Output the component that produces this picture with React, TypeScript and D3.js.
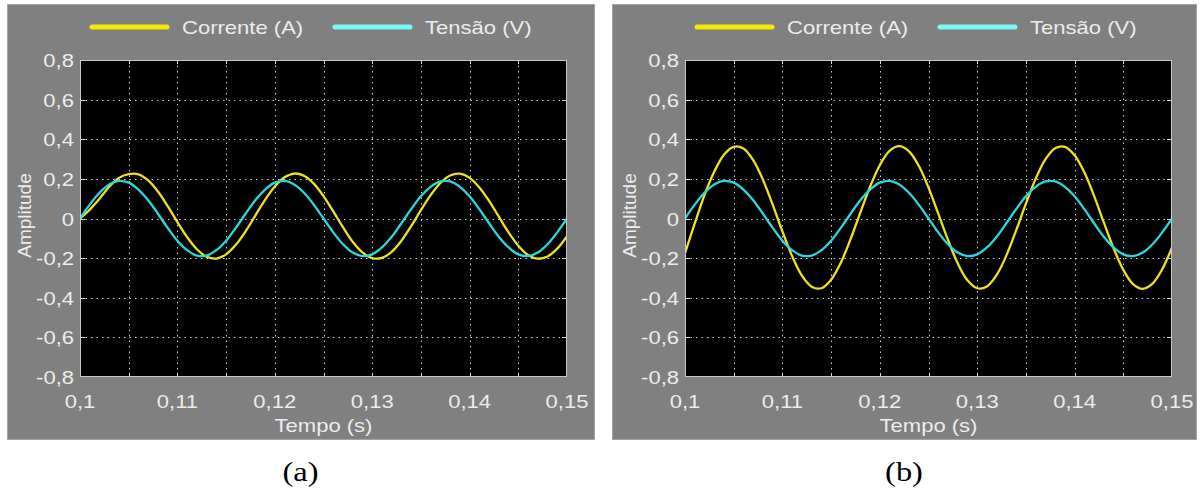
import { useEffect, useRef } from "react"
import * as d3 from "d3"

// time samples (s), 1 ms step
const tempo = [
  0.1, 0.101, 0.102, 0.103, 0.104, 0.105, 0.106, 0.107, 0.108, 0.109,
  0.11, 0.111, 0.112, 0.113, 0.114, 0.115, 0.116, 0.117, 0.118, 0.119,
  0.12, 0.121, 0.122, 0.123, 0.124, 0.125, 0.126, 0.127, 0.128, 0.129,
  0.13, 0.131, 0.132, 0.133, 0.134, 0.135, 0.136, 0.137, 0.138, 0.139,
  0.14, 0.141, 0.142, 0.143, 0.144, 0.145, 0.146, 0.147, 0.148, 0.149, 0.15,
]

// Tensão (V) — same trace in both panels
const tensao = [
  0, 0.07, 0.13, 0.172, 0.19, 0.181, 0.146, 0.092, 0.024, -0.047,
  -0.112, -0.16, -0.187, -0.187, -0.16, -0.112, -0.047, 0.024, 0.092, 0.146,
  0.181, 0.19, 0.172, 0.13, 0.07, 0, -0.07, -0.13, -0.172, -0.19,
  -0.181, -0.146, -0.092, -0.024, 0.047, 0.112, 0.16, 0.187, 0.187, 0.16,
  0.112, 0.047, -0.024, -0.092, -0.146, -0.181, -0.19, -0.172, -0.13, -0.07, 0,
]

// Corrente (A) — panel (a)
const correnteA = [
  0, 0.045, 0.1, 0.16, 0.205, 0.224, 0.223, 0.192, 0.136, 0.063,
  -0.018, -0.094, -0.155, -0.193, -0.202, -0.181, -0.133, -0.065, 0.015, 0.094,
  0.161, 0.208, 0.227, 0.216, 0.176, 0.113, 0.036, -0.044, -0.117, -0.171,
  -0.2, -0.199, -0.168, -0.112, -0.039, 0.042, 0.118, 0.179, 0.217, 0.226,
  0.205, 0.157, 0.089, 0.009, -0.07, -0.137, -0.184, -0.203, -0.192, -0.152, -0.089,
]

// Corrente (A) — panel (b)
const correnteB = [
  -0.175, -0.025, 0.118, 0.236, 0.322, 0.362, 0.353, 0.295, 0.196, 0.07,
  -0.065, -0.19, -0.288, -0.344, -0.352, -0.309, -0.223, -0.104, 0.03, 0.16,
  0.269, 0.341, 0.365, 0.339, 0.266, 0.156, 0.025, -0.108, -0.226, -0.312,
  -0.352, -0.343, -0.285, -0.186, -0.06, 0.075, 0.2, 0.298, 0.354, 0.362,
  0.319, 0.233, 0.114, -0.02, -0.15, -0.259, -0.331, -0.355, -0.329, -0.256, -0.146,
]

const xTicks = [0.1, 0.11, 0.12, 0.13, 0.14, 0.15]
const yTicks = [-0.8, -0.6, -0.4, -0.2, 0, 0.2, 0.4, 0.6, 0.8]
const seriesNames = ["Corrente (A)", "Tensão (V)"]
const panelLabels = ["(a)", "(b)"]

const W = 1200
const H = 492
const FONT = "'Liberation Sans', Arial, sans-serif"
const TXT = "#ececec"
const YELLOW = "#ede21c"
const CYAN = "#27d8dc"
const SX = 1.16 // source figure is stretched horizontally

const fmt = (d: number) => d3.format("~g")(d).replace(".", ",").replace("−", "-")

export default function App() {
  const svgRef = useRef<SVGSVGElement>(null)

  useEffect(() => {
    if (!svgRef.current) return
    const svg = d3.select(svgRef.current)
    svg.selectAll("*").remove()

    const panels = [
      { ox: 7, gw: 587, corrente: correnteA, label: panelLabels[0] },
      { ox: 612, gw: 584, corrente: correnteB, label: panelLabels[1] },
    ]

    const stretchedText = (
      g: d3.Selection<SVGGElement, unknown, null, undefined>,
      x: number,
      y: number,
      s: string,
      anchor: string,
      size = 19,
    ) =>
      g.append("text")
        .attr("transform", `translate(${x},${y}) scale(${SX},1)`)
        .attr("text-anchor", anchor)
        .style("font-family", FONT)
        .style("font-size", `${size}px`)
        .style("fill", TXT)
        .text(s)

    panels.forEach((p, pi) => {
      const g = svg.append("g")
      const left = p.ox + 73
      const right = left + 487
      const top = 60
      const bottom = 377

      const x = d3.scaleLinear().domain([0.1, 0.15]).range([left, right])
      const y = d3.scaleLinear().domain([-0.8, 0.8]).range([bottom, top])

      // gray panel
      g.append("rect")
        .attr("x", p.ox + 0.5)
        .attr("y", 4.5)
        .attr("width", p.gw)
        .attr("height", 435)
        .attr("fill", "#808080")
        .attr("stroke", "#a3a3a3")

      // plot area
      g.append("rect")
        .attr("x", left)
        .attr("y", top)
        .attr("width", right - left)
        .attr("height", bottom - top)
        .attr("fill", "#000")

      const clipId = `clip-${pi}`
      g.append("clipPath")
        .attr("id", clipId)
        .append("rect")
        .attr("x", left)
        .attr("y", top)
        .attr("width", right - left)
        .attr("height", bottom - top)

      // grid
      const xGrid = x.ticks(10).filter((t) => t > 0.1001 && t < 0.1499)
      const yGrid = yTicks.filter((t) => Math.abs(t) < 0.79)
      g.append("g")
        .selectAll("line")
        .data(xGrid)
        .join("line")
        .attr("x1", (d) => Math.round(x(d)) + 0.5)
        .attr("x2", (d) => Math.round(x(d)) + 0.5)
        .attr("y1", top)
        .attr("y2", bottom)
        .attr("stroke", "#d0d0d0")
        .attr("stroke-dasharray", "1.5,4")
      g.append("g")
        .selectAll("line")
        .data(yGrid)
        .join("line")
        .attr("x1", left)
        .attr("x2", right)
        .attr("y1", (d) => Math.round(y(d)) + 0.5)
        .attr("y2", (d) => Math.round(y(d)) + 0.5)
        .attr("stroke", "#d0d0d0")
        .attr("stroke-dasharray", "1.5,4")

      // inner ticks
      const tk = g.append("g").attr("stroke", "#d8d8d8")
      xGrid.forEach((t) => {
        const xx = Math.round(x(t)) + 0.5
        tk.append("line").attr("x1", xx).attr("x2", xx).attr("y1", bottom).attr("y2", bottom - 4)
        tk.append("line").attr("x1", xx).attr("x2", xx).attr("y1", top).attr("y2", top + 4)
      })
      yGrid.forEach((t) => {
        const yy = Math.round(y(t)) + 0.5
        tk.append("line").attr("x1", left).attr("x2", left + 5).attr("y1", yy).attr("y2", yy)
        tk.append("line").attr("x1", right).attr("x2", right - 5).attr("y1", yy).attr("y2", yy)
      })

      // series
      const line = d3
        .line<number>()
        .x((_, i) => x(tempo[i]))
        .y((d) => y(d))
        .curve(d3.curveCatmullRom)

      const series = g.append("g").attr("clip-path", `url(#${clipId})`)
      series.append("path")
        .attr("d", line(p.corrente) ?? "")
        .attr("fill", "none")
        .attr("stroke", YELLOW)
        .attr("stroke-width", 2.3)
      series.append("path")
        .attr("d", line(tensao) ?? "")
        .attr("fill", "none")
        .attr("stroke", CYAN)
        .attr("stroke-width", 2.3)

      // frame
      g.append("rect")
        .attr("x", left + 0.5)
        .attr("y", top + 0.5)
        .attr("width", right - left - 1)
        .attr("height", bottom - top - 1)
        .attr("fill", "none")
        .attr("stroke", "#c8c8c8")

      // axis labels
      yTicks.forEach((t) => stretchedText(g, left - 6, y(t) + 7, fmt(t), "end"))
      xTicks.forEach((t) => stretchedText(g, x(t), 408, fmt(t), "middle"))
      stretchedText(g, (left + right) / 2, 432, "Tempo (s)", "middle")

      g.append("text")
        .attr("transform", `translate(${p.ox + 17},${(top + bottom) / 2 - 3}) rotate(-90)`)
        .attr("text-anchor", "middle")
        .attr("dy", "0.35em")
        .style("font-family", FONT)
        .style("font-size", "19px")
        .style("fill", TXT)
        .text("Amplitude")

      // legend
      const colors = ["#f6ea00", "#7cf6f6"]
      const legendX = [p.ox + 85, p.ox + 328]
      seriesNames.forEach((name, i) => {
        g.append("line")
          .attr("x1", legendX[i])
          .attr("x2", legendX[i] + 75)
          .attr("y1", 27)
          .attr("y2", 27)
          .attr("stroke", colors[i])
          .attr("stroke-width", 5)
          .attr("stroke-linecap", "round")
        stretchedText(g, legendX[i] + 90, 34, name, "start")
      })

      // panel caption
      svg.append("text")
        .attr("transform", `translate(${p.ox + p.gw / 2},481) scale(${SX},1)`)
        .attr("text-anchor", "middle")
        .style("font-family", "'Liberation Serif', 'Times New Roman', serif")
        .style("font-size", "28px")
        .style("fill", "#000")
        .text(p.label)
    })
  }, [])

  return (
    <div style={{ position: "fixed", left: 0, top: 0, width: W, height: H, background: "#fff" }}>
      <svg ref={svgRef} width={W} height={H} />
    </div>
  )
}
